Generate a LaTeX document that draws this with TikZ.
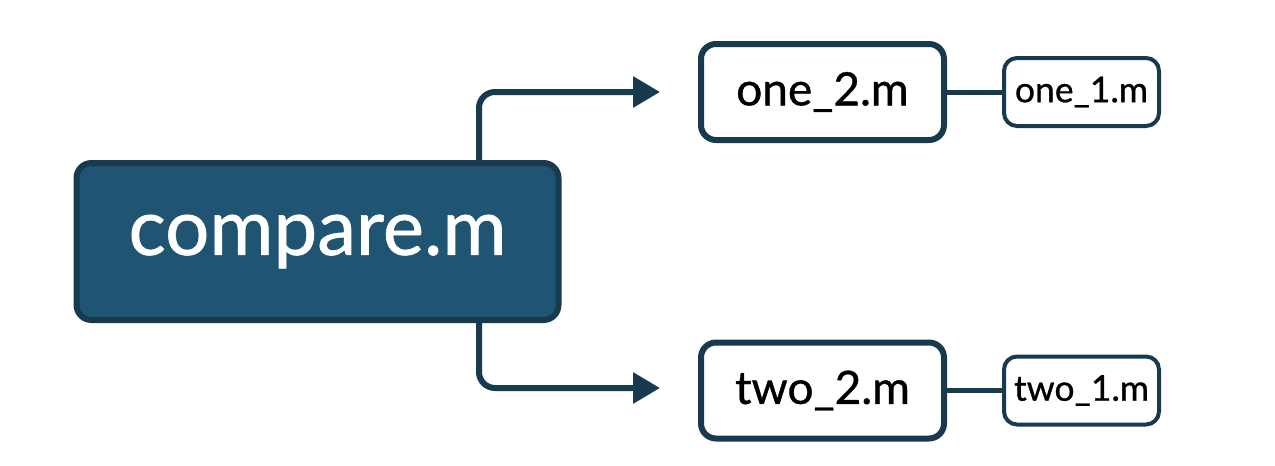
\documentclass[tikz,border=0pt]{standalone}
\usepackage{fontspec}
\setmainfont{Lato}
\newfontfamily\medfont[FakeBold=0.8]{Lato}
\usetikzlibrary{arrows.meta}
\definecolor{boxfill}{HTML}{1F5473}
\definecolor{boxline}{HTML}{173A4F}
\tikzset{
  mainbox/.style={draw=boxline, fill=boxfill, line width=6pt, rounded corners=15pt, minimum width=482pt, minimum height=157pt, inner sep=0pt, text=white, font=\medfont\fontsize{78}{84}\selectfont},
  midbox/.style={draw=boxline, fill=white, line width=6pt, rounded corners=15pt, minimum width=243pt, minimum height=96pt, inner sep=0pt, text=black, font=\medfont\fontsize{46}{52}\selectfont},
  smallbox/.style={draw=boxline, fill=white, line width=4pt, rounded corners=13pt, minimum width=155pt, minimum height=68pt, inner sep=0pt, text=black, font=\medfont\fontsize{35.5}{40}\selectfont},
  flow/.style={draw=boxline, line width=6pt, rounded corners=16pt, -{Triangle[length=27pt,width=30pt]}},
  link/.style={draw=boxline, line width=5pt}
}
\begin{document}
\begin{tikzpicture}[x=1pt,y=-1pt]
\useasboundingbox (0,0) rectangle (1275,466);
\coordinate (s1) at (479,200);
\coordinate (t1) at (660,92);
\coordinate (s2) at (479,280);
\coordinate (t2) at (660,388);
\draw[flow] (s1) |- (t1);
\draw[flow] (s2) |- (t2);
\node[mainbox] (cmp) at (317.5,241.5) {compare.m};
\node[midbox] (o2) at (822.5,92) {one\_2.m};
\node[smallbox] (o1) at (1081.5,92) {one\_1.m};
\node[midbox] (w2) at (822.5,390.5) {two\_2.m};
\node[smallbox] (w1) at (1081.5,390.5) {two\_1.m};
\draw[link] (o2.east) -- (o1.west);
\draw[link] (w2.east) -- (w1.west);
\end{tikzpicture}
\end{document}
